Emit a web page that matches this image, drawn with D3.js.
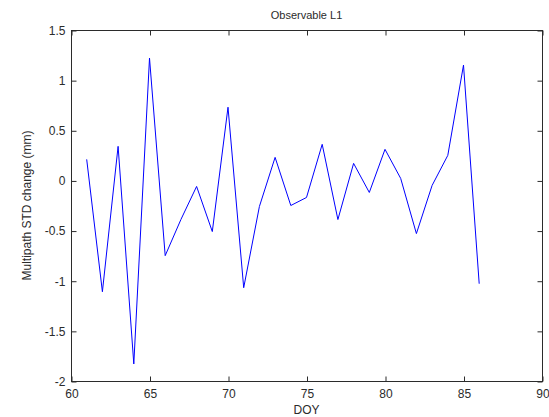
<!DOCTYPE html>
<html>
<head>
<meta charset="utf-8">
<script src="https://cdn.jsdelivr.net/npm/d3@7"></script>
<style>
  body { margin: 0; background: #fff; }
  svg { display: block; font-family: "Liberation Sans", Arial, sans-serif; }
</style>
</head>
<body>
<div id="chart"></div>
<script>
// day of year
var days = [61, 62, 63, 64, 65, 66, 67, 68, 69, 70, 71, 72, 73, 74, 75, 76, 77, 78, 79, 80, 81, 82, 83, 84, 85, 86];
// multipath STD change (mm)
var stdChange = [0.21, -1.11, 0.34, -1.83, 1.22, -0.75, -0.39, -0.06, -0.51, 0.73, -1.07, -0.26, 0.23, -0.25, -0.17, 0.36, -0.39, 0.17, -0.12, 0.31, 0.02, -0.53, -0.05, 0.25, 1.15, -1.03];
var xTicks = [60, 65, 70, 75, 80, 85, 90];
var yTicks = [-2, -1.5, -1, -0.5, 0, 0.5, 1, 1.5];

var width = 549, height = 417;
var plotL = 71, plotR = 542, plotT = 30, plotB = 381;

var svg = d3.select("#chart").append("svg")
  .attr("width", width)
  .attr("height", height);

var x = d3.scaleLinear().domain([60, 90]).range([plotL, plotR]);
var y = d3.scaleLinear().domain([-2, 1.5]).range([plotB, plotT]);

var axisColor = "#2b2b2b";

// box
svg.append("rect")
  .attr("x", plotL + 0.5).attr("y", plotT + 0.5)
  .attr("width", plotR - plotL).attr("height", plotB - plotT)
  .attr("fill", "none").attr("stroke", axisColor).attr("stroke-width", 1);

function fmt(v) { return String(v); }

// axes on all four sides, ticks pointing inward
var xb = svg.append("g").attr("transform", "translate(0.5," + (plotB + 0.5) + ")")
  .call(d3.axisBottom(x).tickValues(xTicks).tickSizeInner(-5).tickSizeOuter(0).tickPadding(8).tickFormat(fmt));
var xt = svg.append("g").attr("transform", "translate(0.5," + (plotT + 0.5) + ")")
  .call(d3.axisTop(x).tickValues(xTicks).tickSizeInner(-5).tickSizeOuter(0).tickFormat(""));
var yl = svg.append("g").attr("transform", "translate(" + (plotL + 0.5) + ",0.5)")
  .call(d3.axisLeft(y).tickValues(yTicks).tickSizeInner(-5).tickSizeOuter(0).tickPadding(6).tickFormat(fmt));
var yr = svg.append("g").attr("transform", "translate(" + (plotR + 0.5) + ",0.5)")
  .call(d3.axisRight(y).tickValues(yTicks).tickSizeInner(-5).tickSizeOuter(0).tickFormat(""));

[xb, xt, yl, yr].forEach(function (g) {
  g.select(".domain").remove();
  g.selectAll(".tick line").attr("stroke", axisColor);
  g.selectAll(".tick text").attr("fill", axisColor).style("font-size", "12px")
    .style("font-family", "'Liberation Sans', Arial, sans-serif");
});

// data line
var line = d3.line()
  .x(function (d, i) { return x(days[i]); })
  .y(function (d) { return y(d); });

svg.append("path")
  .datum(stdChange)
  .attr("d", line)
  .attr("fill", "none")
  .attr("stroke", "#0000ff")
  .attr("stroke-width", 1);

// labels
svg.append("text")
  .attr("x", (plotL + plotR) / 2).attr("y", 19)
  .attr("text-anchor", "middle")
  .style("font-size", "11px").attr("fill", axisColor)
  .text("Observable L1");

svg.append("text")
  .attr("x", (plotL + plotR) / 2).attr("y", 414)
  .attr("text-anchor", "middle")
  .style("font-size", "12px").attr("fill", axisColor)
  .text("DOY");

svg.append("text")
  .attr("transform", "translate(31," + ((plotT + plotB) / 2) + ") rotate(-90)")
  .attr("text-anchor", "middle")
  .style("font-size", "12px").attr("fill", axisColor)
  .text("Multipath STD change (mm)");
</script>
</body>
</html>
